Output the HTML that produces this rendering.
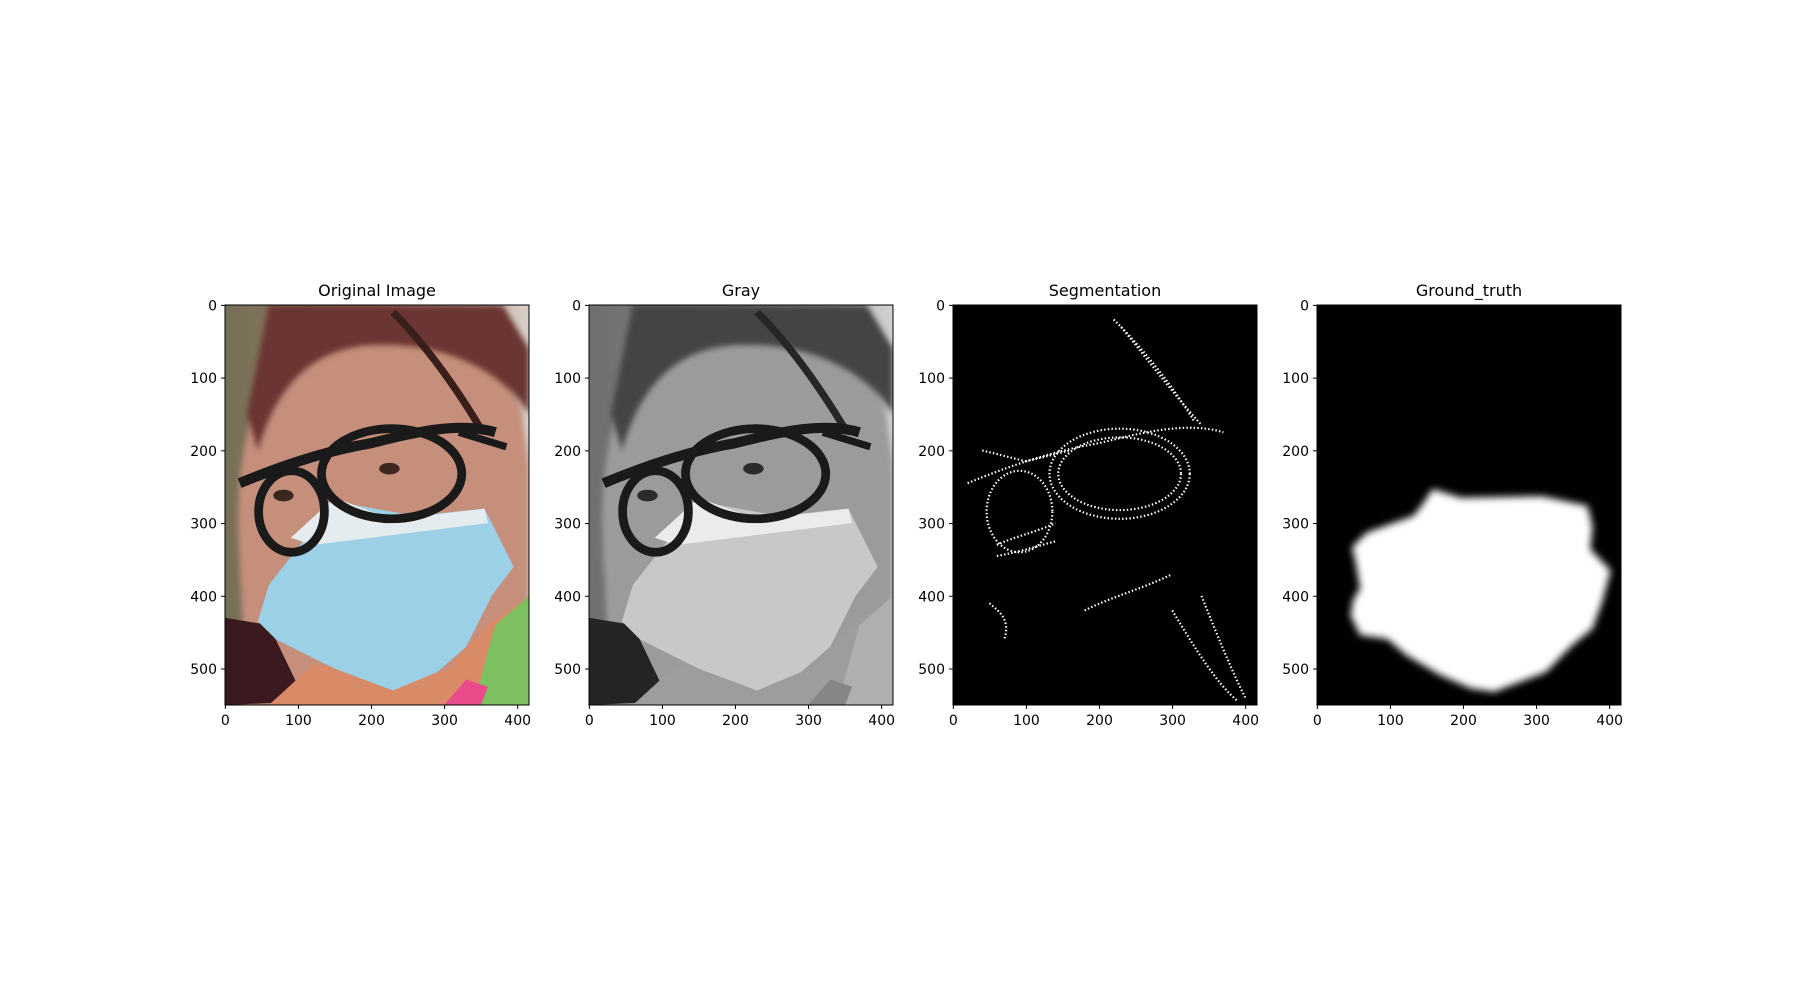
<!DOCTYPE html>
<html><head><meta charset="utf-8">
<style>
body{margin:0;background:#fff;font-family:"Liberation Sans","DejaVu Sans",sans-serif;}
svg text{font-family:"DejaVu Sans","Liberation Sans",sans-serif;}
</style></head>
<body>
<svg id="fig" width="1800" height="1000" viewBox="0 0 1800 1000" xmlns="http://www.w3.org/2000/svg">
<defs>
  <filter id="gray"><feColorMatrix type="saturate" values="0"/></filter>
  <filter id="blur"><feGaussianBlur stdDeviation="5"/></filter>
  <filter id="soft"><feGaussianBlur stdDeviation="4"/></filter>
  <linearGradient id="bg" x1="0" y1="0" x2="1" y2="0">
    <stop offset="0" stop-color="#757056"/><stop offset="0.5" stop-color="#a07a6a"/><stop offset="1" stop-color="#d9cfc8"/>
  </linearGradient>
  <g id="photo">
    <rect x="0" y="0" width="416" height="550" fill="url(#bg)"/>
    <path d="M20 350 C10 200 40 60 150 20 C250 -10 360 30 405 140 L416 220 L416 550 L30 550Z" fill="#c58f7b" filter="url(#soft)"/>
    <path d="M60 0 L380 0 L416 60 L416 150 C380 90 300 50 200 55 C120 60 70 110 45 200 L30 150 Z" fill="#6a3431" filter="url(#soft)"/>
    <path d="M230 10 C280 60 320 120 350 170" stroke="#3a1e1c" stroke-width="10" fill="none"/>
    <path d="M0 430 L60 440 L110 545 L0 550Z" fill="#3a1a1e"/>
    <path d="M60 550 L120 495 L300 505 L360 440 L416 400 L416 550Z" fill="#d98a66"/>
    <path d="M340 550 L370 440 L416 400 L416 550Z" fill="#7cc060"/>
    <path d="M300 550 L330 515 L360 525 L350 550Z" fill="#e84a8a"/>
    <path d="M45 435 L60 385 L95 340 L150 270 L260 290 L355 280 L395 360 L365 400 L330 470 L290 505 L230 530 L150 500 L70 460Z" fill="#9bd0e6"/>
    <path d="M90 320 L150 265 L230 295 L355 280 L360 300 L120 330Z" fill="#e4ecef"/>
    <path d="M20 245 C80 220 140 200 200 190 C260 175 320 160 370 175" stroke="#1a1a1a" stroke-width="14" fill="none"/>
    <ellipse cx="91" cy="284" rx="45" ry="56" fill="none" stroke="#1a1a1a" stroke-width="12"/>
    <ellipse cx="228" cy="232" rx="96" ry="62" fill="none" stroke="#1a1a1a" stroke-width="12"/>
    <path d="M320 175 L385 195" stroke="#1a1a1a" stroke-width="10"/>
    <ellipse cx="80" cy="262" rx="14" ry="8" fill="#3b2620"/>
    <ellipse cx="225" cy="225" rx="14" ry="8" fill="#3b2620"/>
  </g>
</defs>
<g id="panels"></g>
</svg>
<script>
const panelTitles = ["Original Image","Gray","Segmentation","Ground_truth"];
const imgWidth = 416;
const imgHeight = 550;
const xTicks = [0,100,200,300,400];
const yTicks = [0,100,200,300,400,500];
const blobX = [158,197,308,370,377,374,402,390,377,349,313,242,210,169,123,96,59,46,50,59,53,48,68,132,146];
const blobY = [253,265,263,276,304,336,365,409,445,468,505,532,527,509,482,459,454,427,404,390,354,333,313,290,272];

const NS="http://www.w3.org/2000/svg";
const panelLeft=[225,589,953,1317], axTop=305, pw=304, ph=400;
function mk(tag,attrs,parent){const e=document.createElementNS(NS,tag);for(const k in attrs)e.setAttribute(k,attrs[k]);parent.appendChild(e);return e;}
const root=document.getElementById('panels');
panelTitles.forEach((t,i)=>{
  const L=panelLeft[i];
  const sx=v=>L+(v+0.5)/imgWidth*pw;
  const sy=v=>axTop+(v+0.5)/imgHeight*ph;
  const g=mk('g',{},root);
  
  
  const clip=mk('clipPath',{id:'c'+i},g);
  mk('rect',{x:L,y:axTop,width:pw,height:ph},clip);
  const img=mk('g',{'clip-path':'url(#c'+i+')'},g);
  
  
  const inner=mk('g',{transform:`translate(${L},${axTop}) scale(${pw/imgWidth},${ph/imgHeight})`},img);
  if(i<2){
    const u=mk('use',{href:'#photo'},inner);
    if(i===1)u.setAttribute('filter','url(#gray)');
  } else if(i===2){
    mk('rect',{x:0,y:0,width:416,height:550,fill:'#000'},inner);
    const st={fill:'none',stroke:'#fff','stroke-width':3,'stroke-dasharray':'2 3'};
    mk('ellipse',Object.assign({cx:91,cy:284,rx:45,ry:56},st),inner);
    mk('ellipse',Object.assign({cx:228,cy:232,rx:96,ry:62},st),inner);
    mk('ellipse',Object.assign({cx:228,cy:232,rx:84,ry:50},st),inner);
    mk('path',Object.assign({d:'M20 245 C80 220 140 200 200 190 C260 175 320 160 370 175 M220 20 C260 60 300 110 330 160 M230 30 C270 80 300 120 340 165 M180 420 C220 400 260 390 300 370 M300 420 C330 470 360 520 390 545 M340 400 C360 450 380 500 400 540 M50 410 C60 420 80 430 70 460'},st),inner);
    mk('path',Object.assign({d:'M40 200 L100 215 L160 200 M60 330 C80 320 120 310 140 300 M60 345 C90 340 120 330 140 325'},st),inner);
  } else {
    mk('rect',{x:0,y:0,width:416,height:550,fill:'#000'},inner);
    const pts=blobX.map((x,k)=>x+','+blobY[k]).join(' ');
    const b=mk('polygon',{points:pts,fill:'#fff',filter:'url(#blur)'},inner);
    
    
  }
  const fr=mk('rect',{x:L,y:axTop,width:pw,height:ph,fill:'none',stroke:'#000','stroke-width':1},g);
  
  
  const tt=mk('text',{x:L+pw/2,y:axTop-9,'text-anchor':'middle','font-size':16,fill:'#000'},g);
  tt.textContent=t;
  
  
  xTicks.forEach(v=>{
    const x=sx(v);
    mk('line',{x1:x,y1:axTop+ph,x2:x,y2:axTop+ph+4,stroke:'#000'},g);
    const tx=mk('text',{x:x,y:axTop+ph+20,'text-anchor':'middle','font-size':14},g);
    tx.textContent=v;
    
    
  });
  yTicks.forEach(v=>{
    const y=sy(v);
    mk('line',{x1:L-4,y1:y,x2:L,y2:y,stroke:'#000'},g);
    const ty=mk('text',{x:L-8,y:y+5,'text-anchor':'end','font-size':14},g);
    ty.textContent=v;
    
    
  });
});
</script>
</body></html>
